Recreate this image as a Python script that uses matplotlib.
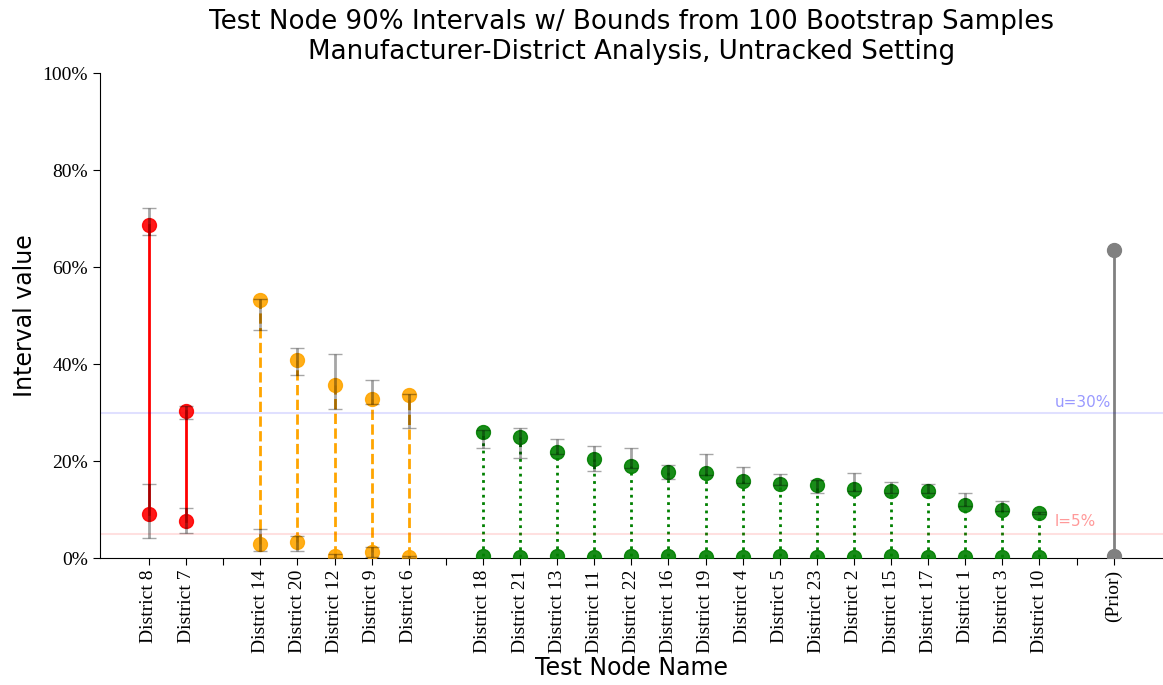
import numpy as np
import matplotlib
matplotlib.use("Agg")
import matplotlib.pyplot as plt
from matplotlib.ticker import PercentFormatter

# --- Data (percent) ---
red_names = ["District 8", "District 7"]
red_lo = [9.1, 7.7]
red_lo_bounds = [(4.1, 15.3), (5.1, 10.4)]
red_hi = [68.7, 30.3]
red_hi_bounds = [(66.7, 72.1), (28.6, 31.3)]

orange_names = ["District 14", "District 20", "District 12", "District 9", "District 6"]
orange_lo = [2.8, 3.3, 0.4, 1.3, 0.3]
orange_lo_bounds = [(1.5, 5.9), (1.4, 4.5), (0.0, 0.8), (0.3, 2.3), (0.0, 0.5)]
orange_hi = [53.1, 40.8, 35.6, 32.7, 33.7]
orange_hi_bounds = [(47.1, 53.4), (37.8, 43.4), (30.8, 42.1), (31.7, 36.7), (26.9, 33.9)]

green_names = ["District 18", "District 21", "District 13", "District 11", "District 22",
               "District 16", "District 19", "District 4", "District 5", "District 23",
               "District 2", "District 15", "District 17", "District 1", "District 3",
               "District 10"]
green_lo = [0.5, 0.2, 0.4, 0.2, 0.4, 0.5, 0.2, 0.2, 0.4, 0.2, 0.2, 0.4, 0.2, 0.2, 0.2, 0.2]
green_hi = [26.0, 25.0, 21.9, 20.4, 19.0, 17.7, 17.5, 15.9, 15.3, 15.1,
            14.2, 13.8, 13.8, 10.9, 9.9, 9.2]
green_hi_bounds = [(22.6, 26.3), (20.7, 26.9), (21.5, 24.5), (18.0, 23.1), (18.6, 22.7),
                   (16.3, 19.1), (17.2, 21.5), (15.5, 18.8), (15.0, 17.3), (13.5, 16.1),
                   (13.9, 17.6), (13.5, 15.6), (13.5, 15.3), (10.7, 13.3), (9.7, 11.7),
                   (9.0, 9.4)]

prior_lo, prior_hi = 0.5, 63.5
U_THRESH, L_THRESH = 30, 5

fig = plt.figure(figsize=(11.63, 6.85), dpi=100)
ax = fig.add_axes([0.086, 0.1854, 0.914, 0.708])

groups = [
    (red_names, red_lo, red_hi, red_lo_bounds, red_hi_bounds, "red", "-"),
    (orange_names, orange_lo, orange_hi, orange_lo_bounds, orange_hi_bounds, "orange", "--"),
    (green_names, green_lo, green_hi, None, green_hi_bounds, "green", ":"),
]

ticks, labels = [], []
pos = 0
for names, lo, hi, lo_b, hi_b, col, ls in groups:
    xs = np.arange(pos, pos + len(names))
    for i, x in enumerate(xs):
        ax.plot([x, x], [lo[i], hi[i]], color=col, ls=ls, lw=2, zorder=2)
        ax.plot([x, x], [lo[i], hi[i]], "o", color=col, ms=10, alpha=0.9, zorder=3)
        bounds = [hi_b[i]] + ([lo_b[i]] if lo_b is not None else [])
        for b0, b1 in bounds:
            ax.errorbar(x, (b0 + b1) / 2, yerr=(b1 - b0) / 2, fmt="none",
                        ecolor="black", alpha=0.35, elinewidth=2, capsize=5, zorder=4)
    ticks += list(xs) + [pos + len(names)]
    labels += names + [""]
    pos += len(names) + 1

ax.plot([pos, pos], [prior_lo, prior_hi], color="gray", lw=2, zorder=2)
ax.plot([pos, pos], [prior_lo, prior_hi], "o", color="gray", ms=10, zorder=3)
ticks.append(pos)
labels.append("(Prior)")

ax.axhline(U_THRESH, color="blue", alpha=0.12, lw=1.5)
ax.axhline(L_THRESH, color="red", alpha=0.12, lw=1.5)
ax.text(pos - 1.6, U_THRESH + 0.6, f"u={U_THRESH}%", color="blue", alpha=0.4,
        fontsize=11, va="bottom")
ax.text(pos - 1.6, L_THRESH + 1.0, f"l={L_THRESH}%", color="red", alpha=0.4,
        fontsize=11, va="bottom")

ax.set_xticks(ticks)
ax.set_xticklabels(labels, rotation=90, family="Liberation Serif", fontsize=14)
ax.set_xlim(-1.32, 27.33)
ax.set_ylim(0, 100)
ax.set_yticks(np.arange(0, 101, 20))
ax.yaxis.set_major_formatter(PercentFormatter(decimals=0))
for t in ax.get_yticklabels():
    t.set_family("Liberation Serif")
    t.set_fontsize(14)
ax.spines["top"].set_visible(False)
ax.spines["right"].set_visible(False)
ax.tick_params(length=5)

ax.set_xlabel("Test Node Name", fontsize=17, labelpad=2)
ax.set_ylabel("Interval value", fontsize=17)
ax.set_title("Test Node 90% Intervals w/ Bounds from 100 Bootstrap Samples\n"
             "Manufacturer-District Analysis, Untracked Setting", fontsize=18.8,
             linespacing=1.2, pad=10)

fig.savefig("out.png", dpi=100)
